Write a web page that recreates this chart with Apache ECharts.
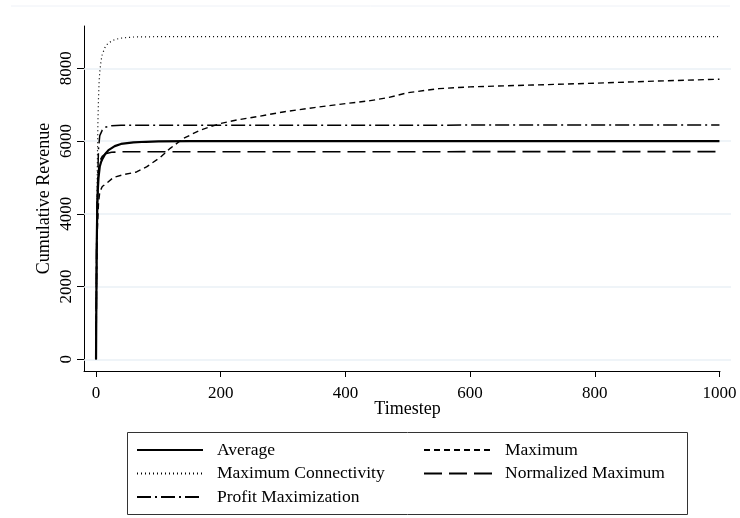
<!DOCTYPE html>
<html>
<head>
<meta charset="utf-8">
<script src="https://cdn.jsdelivr.net/npm/echarts@6/dist/echarts.min.js"></script>
<style>
html,body{margin:0;padding:0;background:#fff;}
#chart{width:740px;height:518px;}
</style>
</head>
<body>
<div id="chart"></div>
<script>
// ---- data ----
var xTicks = [0, 200, 400, 600, 800, 1000];
var yTicks = [0, 2000, 4000, 6000, 8000];

var avgT = [0, 1, 2, 3, 4, 6, 8, 10, 15, 20, 30, 40, 60, 80, 100, 150, 200, 1000];
var avgV = [0, 3000, 4200, 4700, 5000, 5300, 5420, 5500, 5650, 5750, 5860, 5920, 5965, 5980, 5990, 5998, 6000, 6000];

var maxT = [0, 1, 2, 4, 6, 10, 17, 28, 45, 65, 81, 103, 119, 140, 167, 199, 226, 258, 300, 350, 400, 440, 470, 500, 550, 600, 700, 800, 900, 1000];
var maxV = [0, 2500, 3500, 4300, 4600, 4750, 4840, 5000, 5080, 5150, 5290, 5550, 5800, 6070, 6300, 6480, 6580, 6670, 6800, 6920, 7030, 7110, 7200, 7330, 7440, 7490, 7540, 7590, 7650, 7700];

var conT = [0, 1, 2, 3, 4, 5, 6, 8, 10, 12, 15, 20, 30, 40, 60, 100, 1000];
var conV = [0, 3200, 5200, 6500, 7200, 7650, 7900, 8200, 8380, 8470, 8600, 8700, 8790, 8830, 8860, 8870, 8870];

var nrmT = [0, 1, 2, 4, 6, 10, 15, 25, 40, 1000];
var nrmV = [0, 3000, 4300, 5200, 5450, 5580, 5650, 5690, 5705, 5710];

var prfT = [0, 1, 2, 4, 6, 10, 15, 25, 40, 1000];
var prfV = [0, 3200, 4500, 5800, 6150, 6300, 6380, 6420, 6435, 6440];

var seriesNames = ['Average', 'Maximum', 'Maximum Connectivity', 'Normalized Maximum', 'Profit Maximization'];

function pairs(t, v) { return t.map(function (x, i) { return [x, v[i]]; }); }

var FONT = '"Liberation Serif", "Times New Roman", serif';

var chart = echarts.init(document.getElementById('chart'), null, {renderer: 'canvas'});

function lineSeries(name, t, v, width, dash) {
  return {
    name: name, type: 'line', data: pairs(t, v),
    xAxisIndex: 0, yAxisIndex: 0,
    symbol: 'none', showSymbol: false, smooth: false,
    lineStyle: {color: '#000', width: width, type: dash},
    itemStyle: {color: '#000'},
    z: 3
  };
}

var legendCommon = {
  orient: 'vertical', top: 441, padding: 0,
  itemHeight: 18, itemGap: 5.5,
  itemStyle: {color: 'rgba(0,0,0,0)', borderColor: 'rgba(0,0,0,0)', borderWidth: 0, opacity: 0},
  textStyle: {fontFamily: FONT, fontSize: 17.5, color: '#000'}
};

var option = {
  animation: false,
  backgroundColor: '#fff',
  grid: [
    // plot region (data, ticks, labels, grid lines, y axis line)
    {left: 84, right: 9, top: 26, bottom: 147, containLabel: false},
    // x axis line only (it stops a little before the plot region edge)
    {left: 84, right: 20, top: 26, bottom: 147, containLabel: false}
  ],
  xAxis: [
    {
      gridIndex: 0, type: 'value', min: -19.3, max: 1018.5,
      name: 'Timestep', nameLocation: 'middle', nameGap: 29, nameMoveOverlap: false,
      nameTextStyle: {fontFamily: FONT, fontSize: 18, color: '#000'},
      axisLine: {show: false, onZero: false},
      axisTick: {show: true, length: 6, customValues: xTicks, lineStyle: {color: '#000'}},
      axisLabel: {customValues: xTicks, fontFamily: FONT, fontSize: 17, color: '#000', margin: 14,
        formatter: function (v) { return String(v); }},
      splitLine: {show: false}
    },
    {
      gridIndex: 1, type: 'value', min: -19.3, max: 1000.5,
      axisLine: {show: true, onZero: false, lineStyle: {color: '#000', width: 1}},
      axisTick: {show: false}, axisLabel: {show: false}, splitLine: {show: false}
    }
  ],
  yAxis: [
    {
      gridIndex: 0, type: 'value', min: -322, max: 9163,
      name: 'Cumulative Revenue', nameLocation: 'middle', nameGap: 31, nameRotate: 90, nameMoveOverlap: false,
      nameTextStyle: {fontFamily: FONT, fontSize: 18, color: '#000'},
      axisLine: {show: true, onZero: false, lineStyle: {color: '#000', width: 1}},
      axisTick: {show: true, length: 7, customValues: yTicks, lineStyle: {color: '#000'}},
      axisLabel: {customValues: yTicks, rotate: 90, fontFamily: FONT, fontSize: 17, color: '#000', margin: 9,
        formatter: function (v) { return String(v); }},
      splitLine: {show: false}
    },
    {gridIndex: 1, type: 'value', min: -322, max: 9163, show: false}
  ],
  legend: [
    Object.assign({}, legendCommon, {
      data: [seriesNames[0], seriesNames[2], seriesNames[4]],
      left: 136, itemWidth: 66,
      textStyle: Object.assign({}, legendCommon.textStyle, {padding: [0, 0, 0, 9]})
    }),
    Object.assign({}, legendCommon, {
      data: [seriesNames[1], seriesNames[3]],
      left: 423, itemWidth: 70,
      textStyle: Object.assign({}, legendCommon.textStyle, {padding: [0, 0, 0, 6]})
    })
  ],
  graphic: [
    {type: 'rect', shape: {x: 127.5, y: 432.5, width: 560, height: 82}, style: {fill: null, stroke: '#333', lineWidth: 1}, silent: true},
    {type: 'line', shape: {x1: 11, y1: 6, x2: 730, y2: 6}, style: {stroke: '#eef1f7', lineWidth: 1}, silent: true}
  ],
  series: [
    {
      name: '_grid', type: 'line', data: [], silent: true, z: 1,
      xAxisIndex: 0, yAxisIndex: 0,
      markLine: {
        z: 1, silent: true, symbol: ['none', 'none'], label: {show: false},
        lineStyle: {color: '#eaf0f6', width: 1.5, type: 'solid'},
        data: yTicks.map(function (v) { return {yAxis: v}; })
      }
    },
    lineSeries(seriesNames[0], avgT, avgV, 2.2, 'solid'),
    lineSeries(seriesNames[1], maxT, maxV, 1.4, [6, 4]),
    lineSeries(seriesNames[2], conT, conV, 1.2, [1, 3]),
    lineSeries(seriesNames[3], nrmT, nrmV, 1.6, [18, 7]),
    lineSeries(seriesNames[4], prfT, prfV, 1.5, [14, 4, 2, 4])
  ]
};
chart.setOption(option);
</script>
</body>
</html>
